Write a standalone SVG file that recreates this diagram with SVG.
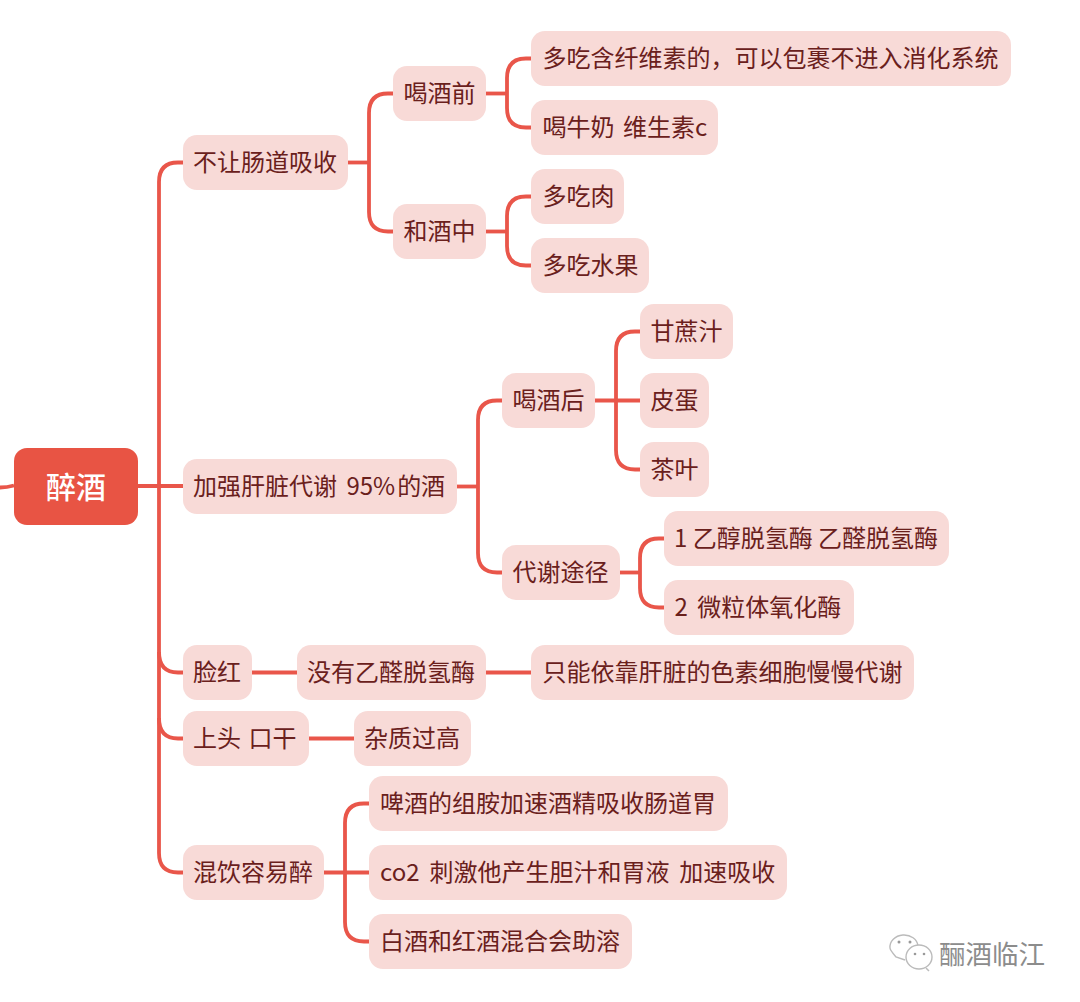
<svg xmlns="http://www.w3.org/2000/svg" width="1080" height="1002" viewBox="0 0 1080 1002">
<style>
.n{fill:#f8dad7}
.t{font-family:"Noto Sans CJK SC","Noto Sans",sans-serif;font-size:24px;fill:#6a201c}
.c{fill:none;stroke:#e9564a;stroke-width:3.8}
</style>
<rect width="1080" height="1002" fill="#fff"/>
<g id="connectors" class="c">
<path d="M0 487.500Q7 487.500 14 485.500"/>
<path d="M138 486H183"/>
<path d="M183 162.500H178Q159 162.500 159 182V853Q159 872.500 178 872.500H183"/>
<path d="M159 652Q159 672.500 178 672.500H183M159 718Q159 738.500 178 738.500H183"/>
<path d="M348 162.500H369"/>
<path d="M393 93.500H388Q369 93.500 369 113V212Q369 231.500 388 231.500H393"/>
<path d="M486 93.500H507"/>
<path d="M531 58.500H526Q507 58.500 507 78V108Q507 127.500 526 127.500H531"/>
<path d="M486 231.500H507"/>
<path d="M531 196.500H526Q507 196.500 507 216V246Q507 265.500 526 265.500H531"/>
<path d="M457 486.500H478"/>
<path d="M502 400.500H497Q478 400.500 478 420V553Q478 572.500 497 572.500H502"/>
<path d="M595 400.500H640"/>
<path d="M640 331.500H635Q616 331.500 616 351V450Q616 469.500 635 469.500H640"/>
<path d="M620 572.500H640"/>
<path d="M664 538.500H659Q640 538.500 640 558V588Q640 607.500 659 607.500H664"/>
<path d="M252 672.500H297M486 672.500H531M309 738.500H354"/>
<path d="M324 872.500H369"/>
<path d="M369 803.500H364Q345 803.500 345 823V922Q345 941.500 364 941.500H369"/>
</g>
<g id="root"><rect x="14" y="448" width="124" height="77" rx="13" fill="#e85444"/><text x="76" y="498" text-anchor="middle" style="font-family:'Noto Sans CJK SC','Noto Sans',sans-serif;font-size:30px;font-weight:500;fill:#fff">醉酒</text></g>
<g id="n1"><rect class="n" x="183" y="135" width="165" height="55" rx="14"/><text class="t" x="193" y="171">不让肠道吸收</text></g>
<g id="n2"><rect class="n" x="393" y="66" width="93" height="55" rx="14"/><text class="t" x="403.500" y="102">喝酒前</text></g>
<g id="n3"><rect class="n" x="531" y="31" width="480" height="55" rx="14"/><text class="t" x="542.500" y="67">多吃含纤维素的，可以包裹不进入消化系统</text></g>
<g id="n4"><rect class="n" x="531" y="100" width="187" height="55" rx="14"/><text class="t" x="542.500" y="136" word-spacing="3">喝牛奶 维生素c</text></g>
<g id="n5"><rect class="n" x="393" y="204" width="93" height="55" rx="14"/><text class="t" x="403.500" y="240">和酒中</text></g>
<g id="n6"><rect class="n" x="531" y="169" width="93" height="55" rx="14"/><text class="t" x="542.500" y="205">多吃肉</text></g>
<g id="n7"><rect class="n" x="531" y="238" width="118" height="55" rx="14"/><text class="t" x="542.500" y="274">多吃水果</text></g>
<g id="n8"><rect class="n" x="183" y="459" width="274" height="55" rx="14"/><text class="t" x="193" y="495" word-spacing="4">加强肝脏代谢 95%<tspan dx="2">的酒</tspan></text></g>
<g id="n9"><rect class="n" x="502" y="373" width="93" height="55" rx="14"/><text class="t" x="512.500" y="409">喝酒后</text></g>
<g id="n10"><rect class="n" x="640" y="304" width="93" height="55" rx="14"/><text class="t" x="650.500" y="340">甘蔗汁</text></g>
<g id="n11"><rect class="n" x="640" y="373" width="69" height="55" rx="14"/><text class="t" x="650.500" y="409">皮蛋</text></g>
<g id="n12"><rect class="n" x="640" y="442" width="69" height="55" rx="14"/><text class="t" x="650.500" y="478">茶叶</text></g>
<g id="n13"><rect class="n" x="502" y="545" width="118" height="55" rx="14"/><text class="t" x="512.500" y="581">代谢途径</text></g>
<g id="n14"><rect class="n" x="664" y="511" width="285" height="55" rx="14"/><text class="t" x="674" y="547">1 乙醇脱氢酶 乙醛脱氢酶</text></g>
<g id="n15"><rect class="n" x="664" y="580" width="190" height="55" rx="14"/><text class="t" x="674.500" y="616" word-spacing="4">2 微粒体氧化酶</text></g>
<g id="n16"><rect class="n" x="183" y="645" width="69" height="55" rx="14"/><text class="t" x="193" y="681">脸红</text></g>
<g id="n17"><rect class="n" x="297" y="645" width="189" height="55" rx="14"/><text class="t" x="307" y="681">没有乙醛脱氢酶</text></g>
<g id="n18"><rect class="n" x="531" y="645" width="383" height="55" rx="14"/><text class="t" x="542.500" y="681">只能依靠肝脏的色素细胞慢慢代谢</text></g>
<g id="n19"><rect class="n" x="183" y="711" width="126" height="55" rx="14"/><text class="t" x="193" y="747" word-spacing="2">上头 口干</text></g>
<g id="n20"><rect class="n" x="354" y="711" width="117" height="55" rx="14"/><text class="t" x="364" y="747">杂质过高</text></g>
<g id="n21"><rect class="n" x="183" y="845" width="141" height="55" rx="14"/><text class="t" x="193" y="881">混饮容易醉</text></g>
<g id="n22"><rect class="n" x="369" y="776" width="359" height="55" rx="14"/><text class="t" x="380" y="812">啤酒的组胺加速酒精吸收肠道胃</text></g>
<g id="n23"><rect class="n" x="369" y="845" width="418" height="55" rx="14"/><text class="t" x="380" y="881" word-spacing="4.500">co2 刺激他产生胆汁和胃液 加速吸收</text></g>
<g id="n24"><rect class="n" x="369" y="914" width="263" height="55" rx="14"/><text class="t" x="380" y="950">白酒和红酒混合会助溶</text></g>
<g id="watermark">
<path d="M905 960L896 957Q890 950 890 948A14 12 0 1 1 918 946" fill="#fff" stroke="#bbb" stroke-width="1.400"/>
<ellipse cx="919" cy="957" rx="13" ry="12" fill="#fff" stroke="#bbb" stroke-width="1.400"/>
<path d="M926 968L929 971" stroke="#bbb" stroke-width="1.500"/>
<circle cx="899" cy="942" r="1.500" fill="#999"/><circle cx="910" cy="942" r="1.500" fill="#999"/><circle cx="915" cy="954" r="1.300" fill="#999"/><circle cx="924" cy="954" r="1.300" fill="#999"/>
<text x="939" y="964" style="font-family:'Noto Sans CJK SC',sans-serif;font-size:26.500px;fill:#8c8c8c">酾酒临江</text>
</g>
</svg>
